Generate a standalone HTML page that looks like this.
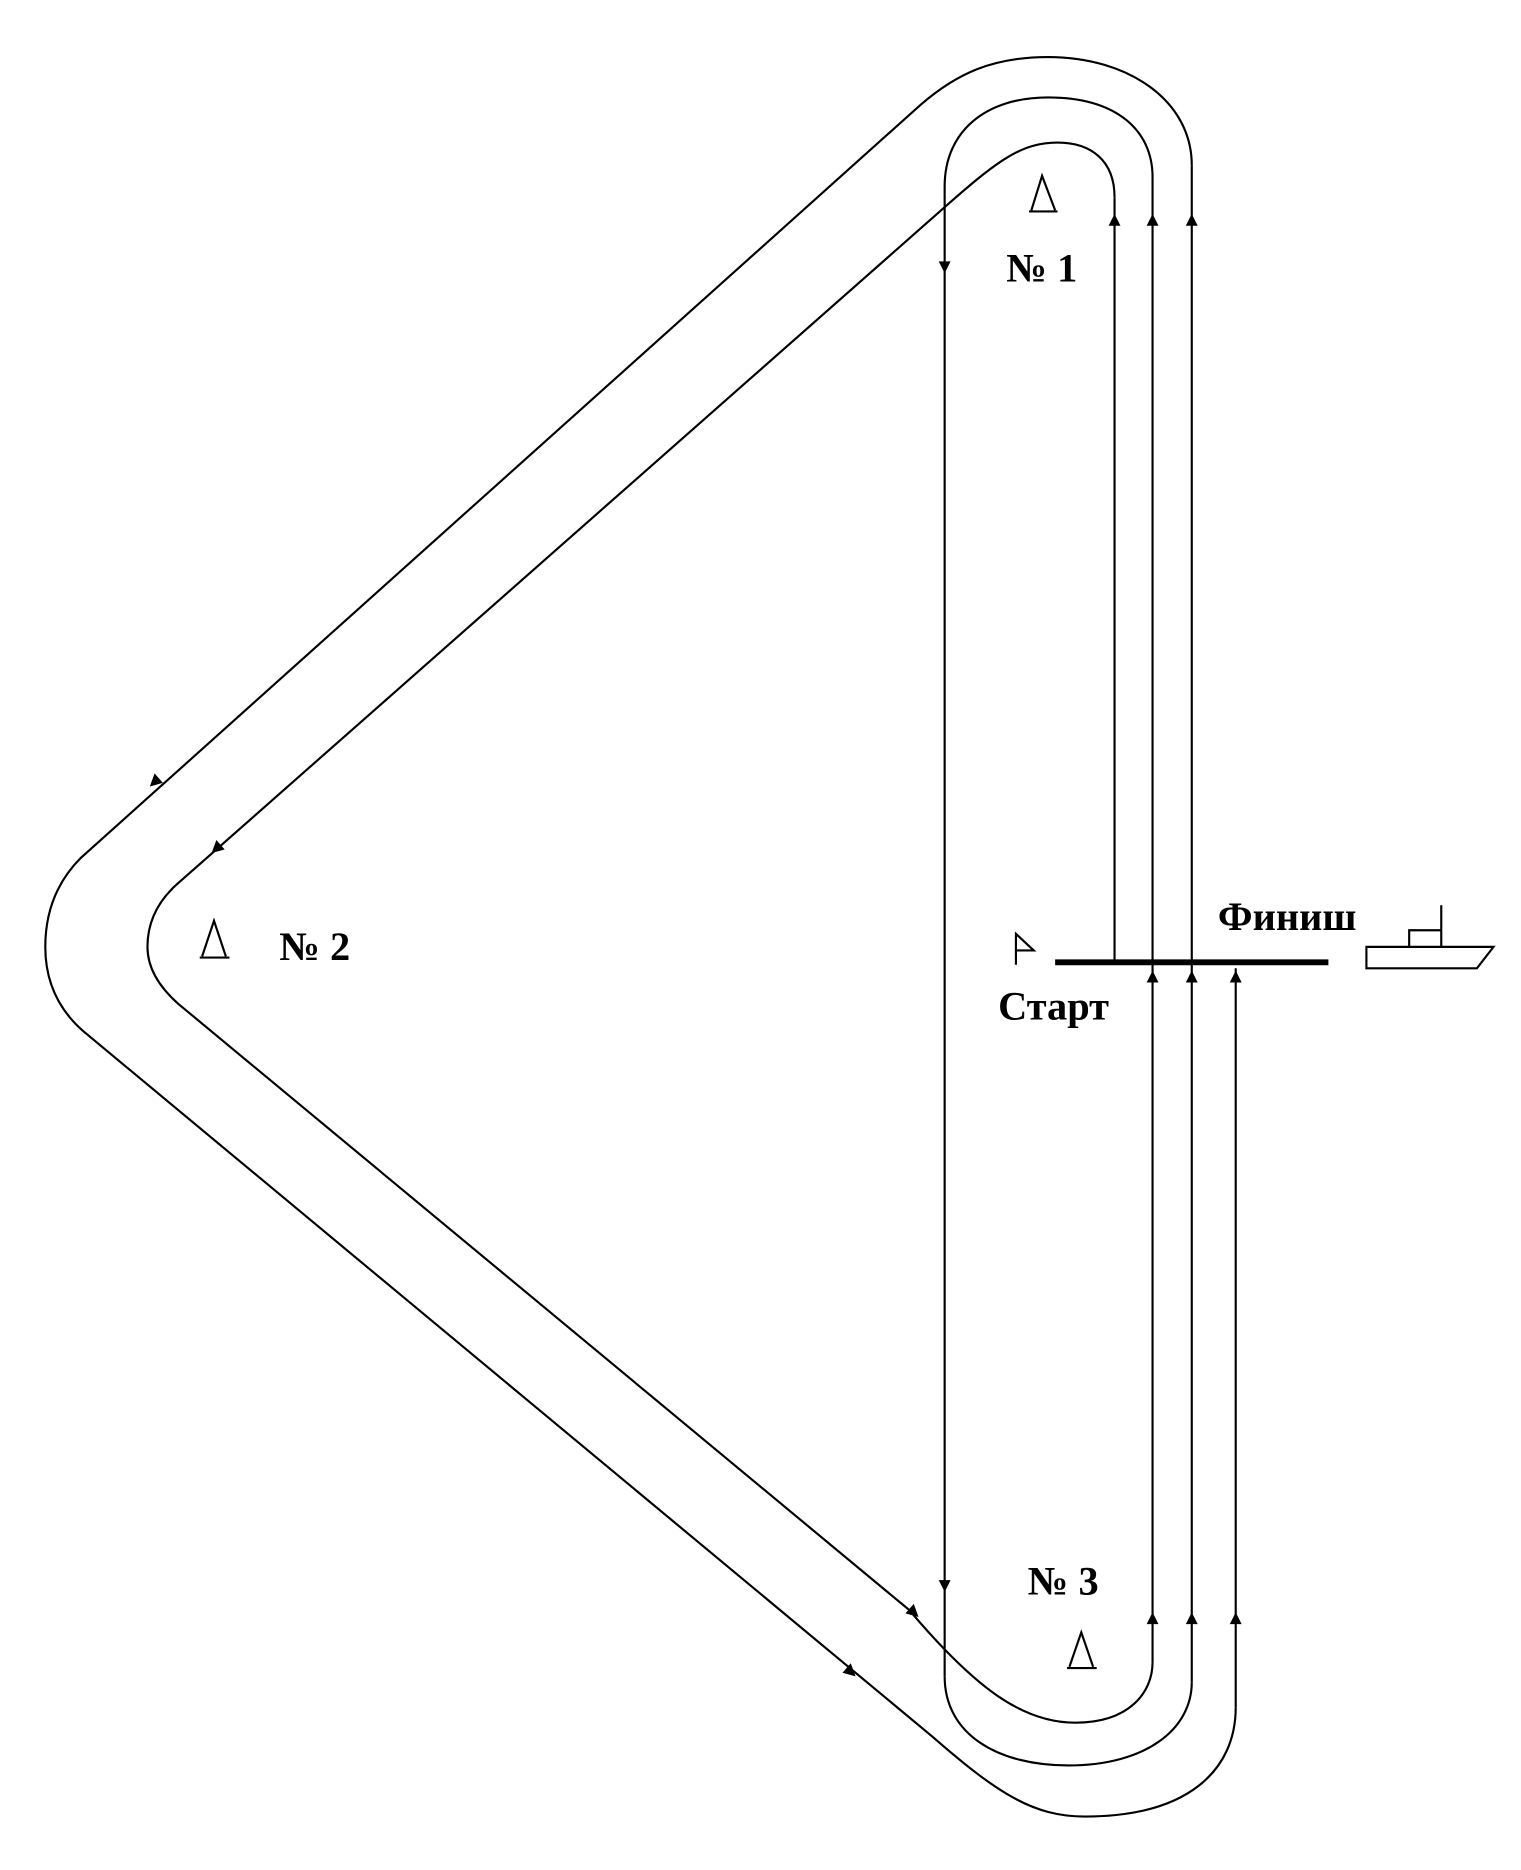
<!DOCTYPE html>
<html><head><meta charset="utf-8"><style>
html,body{margin:0;padding:0;background:#fff;}
svg{display:block;}
text{font-family:"Liberation Serif",serif;font-weight:bold;fill:#000;}
</style></head><body>
<svg width="1521" height="1870" viewBox="0 0 1280 1574" xmlns="http://www.w3.org/2000/svg">
<g fill="none" stroke="#000" stroke-width="1.8">
<path d="M1003,139 C1003,85 950,48 882,48 C835,48 805,62 775,88 L68,722 Q38,752 38,797 Q38,840 70,868 L785,1462 C840,1510 870,1529 913,1529 C1000,1529 1040,1490 1040,1437"/>
<path d="M795,157 C795,110 830,82 882,82 C940,82 970,110 970,149"/>
<path d="M795,1411 C795,1460 840,1486 899,1486 C965,1486 1003,1455 1003,1416"/>
<path d="M938,166 C938,135 918,120 890,120 C860,120 840,135 800,170 L148,745 Q124,767 124,797 Q124,822 150,845 L765,1355 C820,1420 860,1450 905,1450 C950,1450 970,1425 970,1399"/>
<path d="M795,157 L795,1411"/>
<path d="M938,166 L938,810"/>
<path d="M970,149 L970,1399"/>
<path d="M1003,139 L1003,1416"/>
<path d="M1040,815 L1040,1437"/>
</g>
<g fill="#000">
<polygon points="938,180 933,190 943,190"/>
<polygon points="970,180 965,190 975,190"/>
<polygon points="1003,180 998,190 1008,190"/>
<polygon points="795,230 790,220 800,220"/>
<polygon points="970,817 965,827 975,827"/>
<polygon points="1003,817 998,827 1008,827"/>
<polygon points="1040,817 1035,827 1045,827"/>
<polygon points="795,1340 790,1330 800,1330"/>
<polygon points="970,1357 965,1367 975,1367"/>
<polygon points="1003,1357 998,1367 1008,1367"/>
<polygon points="1040,1357 1035,1367 1045,1367"/>
<polygon points="126,662 130,651 137,659"/>
<polygon points="178,718 182,707 189,715"/>
<polygon points="773,1361 762,1358 769,1350"/>
<polygon points="720,1411 709,1408 716,1400"/>
</g>
<g fill="none" stroke="#000" stroke-width="1.8">
<path d="M866,178 L890,178 M868,177 L877,148 L888,177"/>
<path d="M168,806 L193,806 M170,805 L180,775 L190,805"/>
<path d="M898,1404 L923,1404 M900,1403 L910,1374 L920,1403"/>
</g>
<line x1="888" y1="810" x2="1118" y2="810" stroke="#000" stroke-width="5"/>
<g fill="none" stroke="#000" stroke-width="1.8">
<path d="M855,812 L855,786 L870,800 L855,800"/>
<path d="M1150,797 L1257,797 L1243,815 L1150,815 Z"/>
<path d="M1186,797 L1186,783 L1213,783 L1213,797 M1213,783 L1213,762"/>
</g>
<text x="847" y="237" font-size="34">№ 1</text>
<text x="235" y="808" font-size="34">№ 2</text>
<text x="865" y="1342" font-size="34">№ 3</text>
<text x="840" y="858" font-size="34">Старт</text>
<text x="1025" y="783" font-size="34">Финиш</text>
</svg>
</body></html>
